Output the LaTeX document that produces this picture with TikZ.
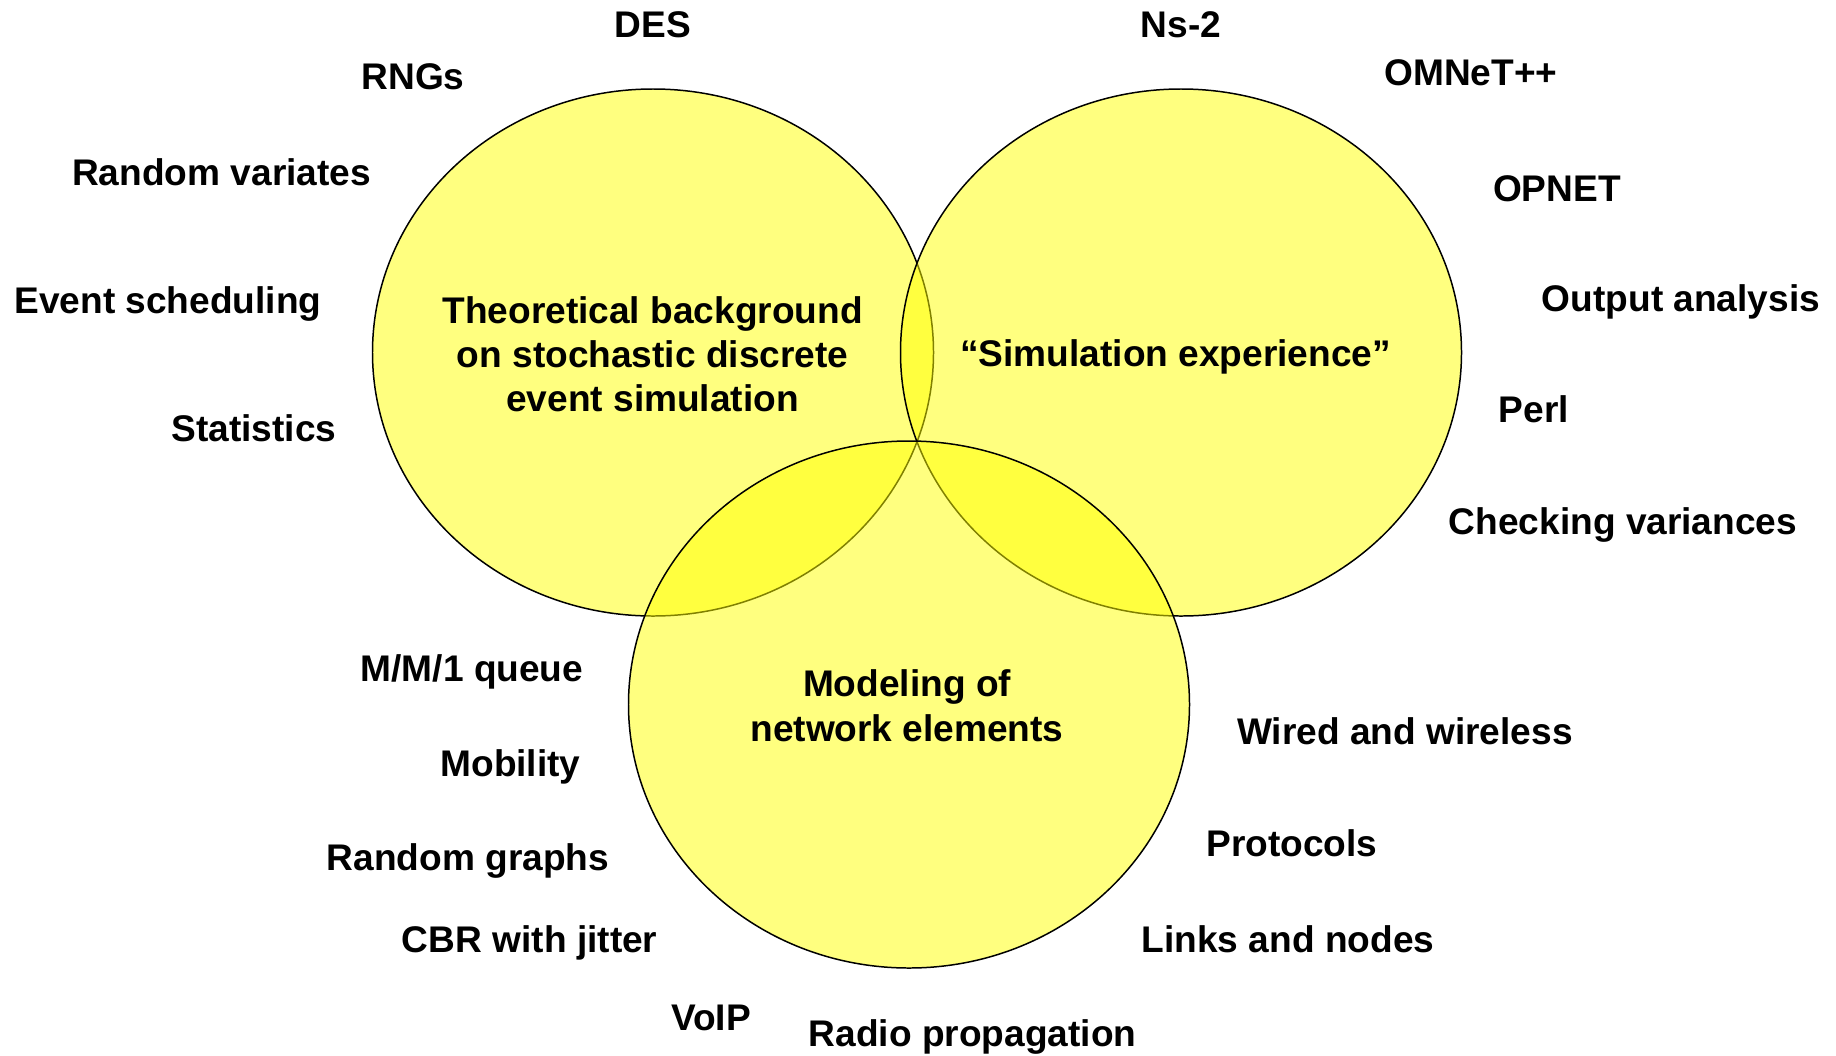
\documentclass[tikz,border=0pt]{standalone}
\usepackage{fontspec}
\setmainfont{Liberation Sans}
\definecolor{vennyellow}{RGB}{255, 255, 0}
\usepackage{tikz}

\begin{document}
\begin{tikzpicture}[
  x=0.2mm, y=-0.2mm,
  venn/.style={draw=black, line width=0.85pt, fill=vennyellow, fill opacity=0.5},
  item/.style={font={\fontsize{21.1}{25.1}\selectfont\bfseries}, anchor=base, inner sep=0pt},
  topic/.style={item, align=center}
]
  \useasboundingbox (0,0) rectangle (1836,1056);
  \fill[white] (0,0) rectangle (1836,1056);

  % the three sets
  \draw[venn] (653,352.5) ellipse [x radius=56.1mm, y radius=52.7mm];
  \draw[venn] (1181,352.5) ellipse [x radius=56.1mm, y radius=52.7mm];
  \draw[venn] (909,704.5) ellipse [x radius=56.1mm, y radius=52.7mm];

  \node[topic] (theory) at (652.6, 411.3) {Theoretical background\\on stochastic discrete\\event simulation};
  \node[topic] (practice) at (1175.6, 366.5) {“Simulation experience”};
  \node[topic] (modeling) at (907, 741) {Modeling of\\network elements};

  % theory side
  \node[item] (des) at (653, 37) {DES};
  \node[item] (rngs) at (413, 89) {RNGs};
  \node[item] (variates) at (221.6, 185) {Random variates};
  \node[item] (sched) at (168, 313) {Event scheduling};
  \node[item] (stats) at (254, 441) {Statistics};

  % simulator side
  \node[item] (ns) at (1181, 37) {Ns-2};
  \node[item] (omnet) at (1471, 85.7) {OMNeT++};
  \node[item] (opnet) at (1557, 201) {OPNET};
  \node[item] (output) at (1681, 311.7) {Output analysis};
  \node[item] (perl) at (1534, 422.7) {Perl};
  \node[item] (checking) at (1623, 534.3) {Checking variances};

  % modeling side
  \node[item] (mm1) at (472, 681) {M/M/1 queue};
  \node[item] (mobility) at (510.5, 776.7) {Mobility};
  \node[item] (graphs) at (468, 870) {Random graphs};
  \node[item] (cbr) at (529.7, 952.7) {CBR with jitter};
  \node[item] (voip) at (711, 1030) {VoIP};
  \node[item] (radio) at (972.6, 1046.7) {Radio propagation};
  \node[item] (wired) at (1405, 744.3) {Wired and wireless};
  \node[item] (protocols) at (1292, 856.7) {Protocols};
  \node[item] (links) at (1288, 952.7) {Links and nodes};
\end{tikzpicture}
\end{document}
